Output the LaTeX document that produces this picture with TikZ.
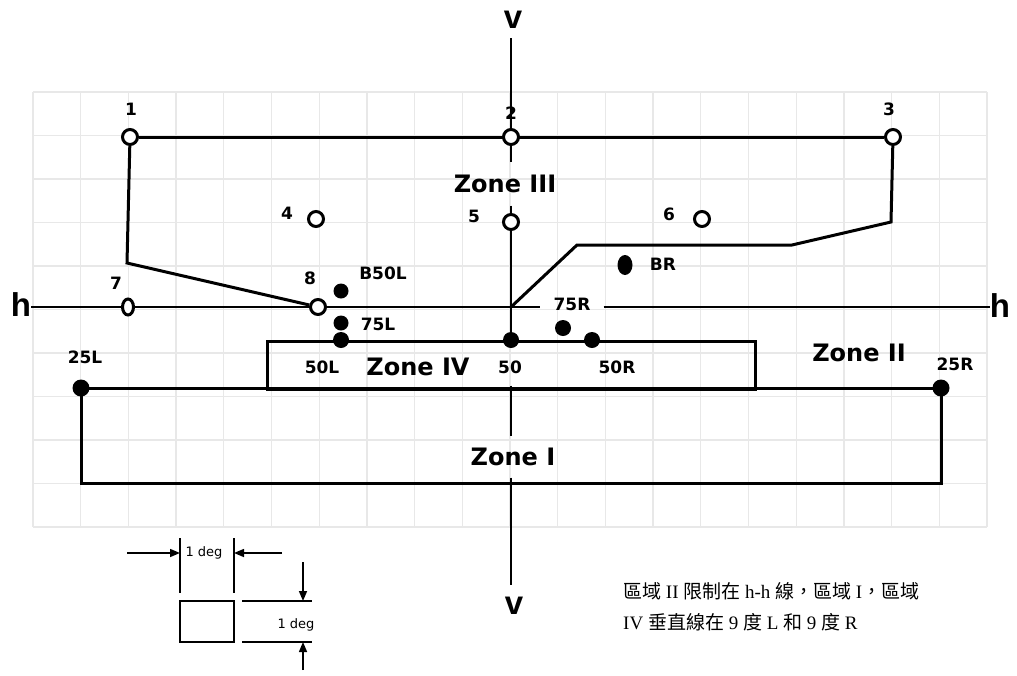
\documentclass[tikz,border=0pt]{standalone}
\usepackage{fontspec}
\setmainfont{DejaVu Sans}
\newfontfamily\cjk{Noto Sans CJK TC}
\newfontfamily\lsr{Liberation Serif}
\newfontfamily\lsb{Liberation Sans}
\usetikzlibrary{arrows.meta,shapes.geometric}
\pgfdeclarelayer{bg}
\pgfsetlayers{bg,main}
\begin{document}
\begin{tikzpicture}[x=1pt,y=-1pt,
  zone/.style={line width=3pt, line join=miter},
  axisline/.style={line width=2pt},
  gridline/.style={black!9, line width=1.3pt},
  opendot/.style={circle, draw, line width=3pt, fill=white, minimum size=15pt, inner sep=0pt},
  openell/.style={ellipse, draw, line width=3pt, fill=white, minimum width=11pt, minimum height=16pt, inner sep=0pt},
  soliddot/.style={circle, fill=black, minimum size=16pt, inner sep=0pt},
  solidell/.style={ellipse, fill=black, minimum width=15pt, minimum height=20pt, inner sep=0pt},
  lbl/.style={font=\bfseries\fontsize{17}{17}\selectfont, inner sep=0pt},
  zlbl/.style={font=\bfseries\fontsize{24}{24}\selectfont, inner sep=0pt},
  axlbl/.style={font=\lsb\bfseries\fontsize{33}{33}\selectfont, inner sep=0pt},
  deglbl/.style={font=\fontsize{13}{13}\selectfont, inner sep=0pt},
  thin/.style={line width=1.5pt},
  arr/.style={line width=1.5pt, -{Triangle[length=10pt,width=8pt]}}
]
\useasboundingbox (0,0) rectangle (1017,675);
\begin{pgfonlayer}{bg}
\fill[white] (0,0) rectangle (1017,675);
\foreach \i in {0,...,20} \draw[gridline] ({33+\i*47.7},92) -- ({33+\i*47.7},527);
\foreach \j in {0,...,10} \draw[gridline] (33,{92+\j*43.5}) -- (987,{92+\j*43.5});
\end{pgfonlayer}

% open points
\node[opendot] (p1) at (130,137) {};
\node[opendot] (p2) at (511,137) {};
\node[opendot] (p3) at (893,137) {};
\node[opendot] (p4) at (316,219) {};
\node[opendot] (p5) at (511,222) {};
\node[opendot] (p6) at (702,219) {};
\node[openell] (p7) at (128,307) {};
\node[opendot] (p8) at (318,307) {};

% solid points
\node[soliddot, minimum size=15pt] (dB50L) at (341,291) {};
\node[soliddot, minimum size=15pt] (d75L) at (341,323) {};
\node[soliddot] (d50L) at (341,340) {};
\node[soliddot] (d50) at (511,340) {};
\node[soliddot] (d75R) at (563,328) {};
\node[soliddot] (d50R) at (592,340) {};
\node[solidell] (dBR) at (625,265) {};
\node[soliddot, minimum size=17pt] (d25L) at (81,388) {};
\node[soliddot, minimum size=17pt] (d25R) at (941,388) {};

% point labels
\node[lbl] (l1) at (131,109) {1};
\node[lbl] (l2) at (511,113) {2};
\node[lbl] (l3) at (889,109) {3};
\node[lbl] (l4) at (287,213) {4};
\node[lbl] (l5) at (474,216) {5};
\node[lbl] (l6) at (669,214) {6};
\node[lbl] (l7) at (116,283) {7};
\node[lbl] (l8) at (310,278) {8};
\node[lbl] (lB50L) at (383,273) {B50L};
\node[lbl] (l75L) at (378,324) {75L};
\node[lbl] (l50L) at (322,367) {50L};
\node[lbl, inner ysep=12pt] (l50) at (510,367) {50};
\node[lbl, inner xsep=13pt] (l75R) at (572,304) {75R};
\node[lbl] (l50R) at (617,367) {50R};
\node[lbl] (lBR) at (663,264) {BR};
\node[lbl] (l25L) at (85,357) {25L};
\node[lbl] (l25R) at (955,364) {25R};

% zone labels
\node[zlbl, inner ysep=12.5pt] (z3) at (505,184) {Zone III};
\node[zlbl] (z4) at (418,367) {Zone IV};
\node[zlbl] (z2) at (859,353) {Zone II};
\node[zlbl, inner ysep=11.5pt] (z1) at (513,457) {Zone I};

% axis labels
\node[axlbl] (vt) at (513,20) {v};
\node[axlbl] (vb) at (514,606) {v};
\node[axlbl] (hl) at (21,305) {h};
\node[axlbl] (hr) at (1000,306) {h};

\coordinate (vtop) at (511,38);
\coordinate (vbot) at (511,585);
\coordinate (c1) at (127,263);
\coordinate (c3) at (891,222);
\coordinate (c4) at (792,245);
\coordinate (c5) at (577,245);
\coordinate (c6) at (511,307);
\coordinate (z4a) at (267,341);
\coordinate (z4b) at (755,389);
\coordinate (z1b) at (81,483);

\begin{pgfonlayer}{bg}
% vertical axis
\draw[axisline] (vtop) -- (p2);
\draw[axisline] (p2) -- (p2 |- z3.north);
\draw[axisline] (p5 |- z3.south) -- (p5);
\draw[axisline] (p5) -- (d50);
\draw[axisline] (d50 |- l50.south) -- (d50 |- z1.north);
\draw[axisline] (d50 |- z1.south) -- (vbot);
% horizontal axis
\draw[axisline] (hl.east |- p7) -- (p7);
\draw[axisline] (p7) -- (p8);
\draw[axisline] (p8) -- (l75R.west |- p8);
\draw[axisline] (l75R.east |- p8) -- (hr.west |- p8);
% zone III boundary
\draw[zone] (p1) -- (p3);
\draw[zone] (p1) -- (c1) -- (p8);
\draw[zone] (p3) -- (c3) -- (c4) -- (c5) -- (c6);
% zone IV
\draw[zone] (z4a) rectangle (z4b);
% zone I
\draw[zone] (d25L.center) -- (d25R.center) -- (d25R.center |- z1b) -- (z1b) -- cycle;
\end{pgfonlayer}

% scale legend
\coordinate (ea1) at (180,538); \coordinate (ea2) at (180,593);
\coordinate (eb1) at (234,538); \coordinate (eb2) at (234,593);
\draw[thin] (ea1) -- (ea2);
\draw[thin] (eb1) -- (eb2);
\coordinate (aL) at (127,553); \coordinate (aR) at (282,553);
\draw[arr] (aL) -- (ea1 |- aL);
\draw[arr] (aR) -- (eb1 |- aR);
\node[deglbl] (deg1) at (204,553) {1 deg};
\node[draw, thin, minimum width=54pt, minimum height=41pt, inner sep=0pt, outer sep=0pt] (sq) at (207,621.5) {};
\coordinate (hA1) at (242,601); \coordinate (hA2) at (312,601);
\coordinate (hB1) at (242,642); \coordinate (hB2) at (312,642);
\draw[thin] (hA1) -- (hA2);
\draw[thin] (hB1) -- (hB2);
\coordinate (aT) at (303,562); \coordinate (aB) at (303,670);
\draw[arr] (aT) -- (aT |- hA1);
\draw[arr] (aB) -- (aB |- hB1);
\node[deglbl] (deg2) at (296,625) {1 deg};

% note
\node[anchor=west, align=left, inner sep=0pt, font=\lsr\fontsize{19}{31}\selectfont] (note) at (623,607)
 {{\cjk 區域} II {\cjk 限制在} h-h {\cjk 線，區域} I{\cjk ，區域}\\
  IV {\cjk 垂直線在} 9 {\cjk 度} L {\cjk 和} 9 {\cjk 度} R};
\end{tikzpicture}
\end{document}
